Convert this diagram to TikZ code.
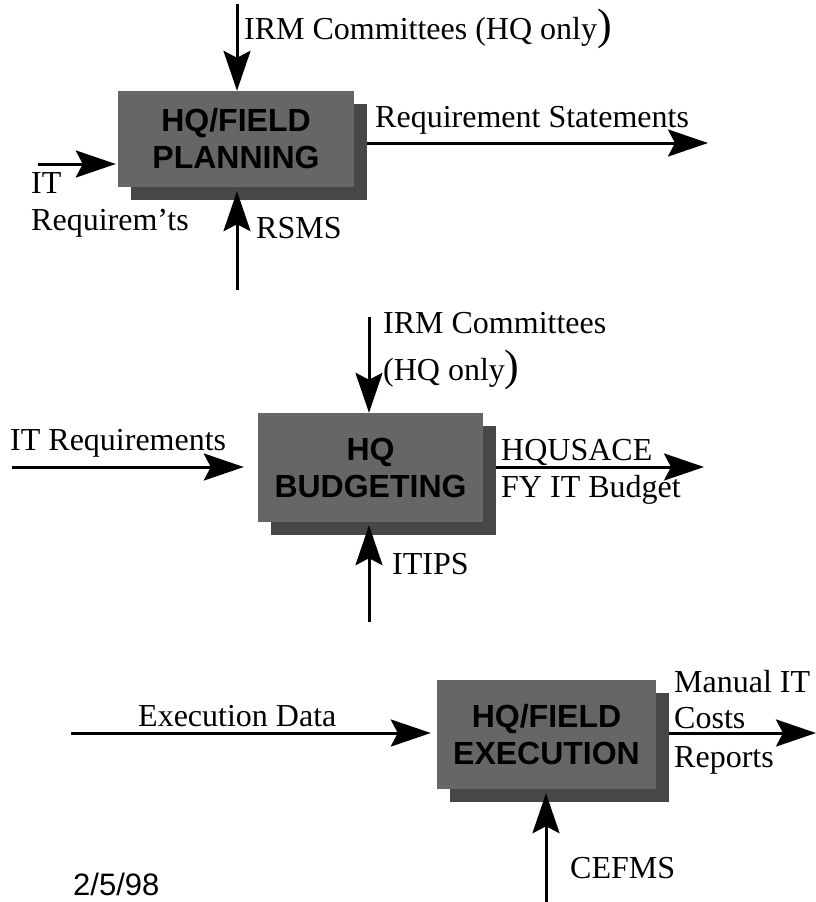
\documentclass[tikz,border=0pt]{standalone}
\usepackage{fontspec}
\setmainfont{Liberation Serif}
\setsansfont{Liberation Sans}
\usetikzlibrary{arrows.meta}
\definecolor{frontgray}{HTML}{666666}
\definecolor{shadegray}{HTML}{474747}
\begin{document}
\begin{tikzpicture}[x=1pt,y=-1pt,
  lbl/.style={anchor=base west, inner sep=0pt, font=\fontsize{32}{38}\selectfont},
  boxstyle/.style={fill=frontgray, inner sep=0pt, align=center,
    font=\sffamily\bfseries\fontsize{32}{37}\selectfont},
  shadestyle/.style={fill=shadegray, inner sep=0pt},
  arr/.style={line width=3pt, -{Stealth[length=40pt,width=27pt,inset=7pt]}}]
\fill[white] (0,0) rectangle (816,902);
\useasboundingbox (0,0) rectangle (816,902);

% ---------- Box 1: planning ----------
\node[shadestyle, minimum width=236pt, minimum height=96pt] (b1s) at (249,152) {};
\node[boxstyle, minimum width=236pt, minimum height=96pt] (b1) at (236,139) {HQ/FIELD\\PLANNING};

\coordinate (t1) at (237,4);
\coordinate (i1) at (38,164);
\coordinate (o1) at (708,143);
\coordinate (c1) at (237,290);
\draw[arr] (t1) -- (t1 |- b1.north);
\draw[arr] (i1) -- ([xshift=-2pt]i1 -| b1.west);
\draw[arr] (o1 -| b1s.east) -- (o1);
\draw[arr] (c1) -- ([yshift=-4pt]c1 |- b1.south);

\node[lbl] (l1a) at (244,39) {IRM Committees (HQ only{\fontsize{44}{44}\selectfont)}};
\node[lbl] (l1b) at (375,127) {Requirement Statements};
\node[lbl] (l1c) at (31,193) {IT};
\node[lbl] (l1d) at (31,230) {Requirem’ts};
\node[lbl] (l1e) at (256,238) {RSMS};

% ---------- Box 2: budgeting ----------
\node[shadestyle, minimum width=225pt, minimum height=109pt] (b2s) at (383.5,480.5) {};
\node[boxstyle, minimum width=225pt, minimum height=109pt] (b2) at (370.5,467.5) {HQ\\BUDGETING};

\coordinate (t2) at (369,317);
\coordinate (i2) at (12,467);
\coordinate (o2) at (704,467);
\coordinate (c2) at (369,622);
\draw[arr] (t2) -- (t2 |- b2.north);
\draw[arr] (i2) -- ([xshift=-14pt]i2 -| b2.west);
\draw[arr] (o2 -| b2s.east) -- (o2);
\draw[arr] (c2) -- ([yshift=-3pt]c2 |- b2.south);

\node[lbl] (l2a) at (383,333) {IRM Committees};
\node[lbl] (l2b) at (383,380) {(HQ only{\fontsize{44}{44}\selectfont)}};
\node[lbl] (l2c) at (10,450) {IT Requirements};
\node[lbl] (l2d) at (501,460) {HQUSACE};
\node[lbl] (l2e) at (501,497) {FY IT Budget};
\node[lbl] (l2f) at (392,574) {ITIPS};

% ---------- Box 3: execution ----------
\node[shadestyle, minimum width=219pt, minimum height=109pt] (b3s) at (559.5,747.5) {};
\node[boxstyle, minimum width=219pt, minimum height=109pt] (b3) at (546.5,734.5) {HQ/FIELD\\EXECUTION};

\coordinate (i3) at (71,733);
\coordinate (o3) at (816,733);
\coordinate (c3) at (546,902);
\draw[arr] (i3) -- ([xshift=-6pt]i3 -| b3.west);
\draw[arr] (o3 -| b3s.east) -- (o3);
\draw[arr] (c3) -- ([yshift=-4pt]c3 |- b3.south);

\node[lbl] (l3a) at (138,726) {Execution Data};
\node[lbl] (l3b) at (674,692) {Manual IT};
\node[lbl] (l3c) at (674,728) {Costs};
\node[lbl] (l3d) at (674,767) {Reports};
\node[lbl] (l3e) at (570,878) {CEFMS};

\node[anchor=base west, inner sep=0pt, font=\sffamily\fontsize{31}{36}\selectfont] (date) at (73,895) {2/5/98};
\end{tikzpicture}
\end{document}
